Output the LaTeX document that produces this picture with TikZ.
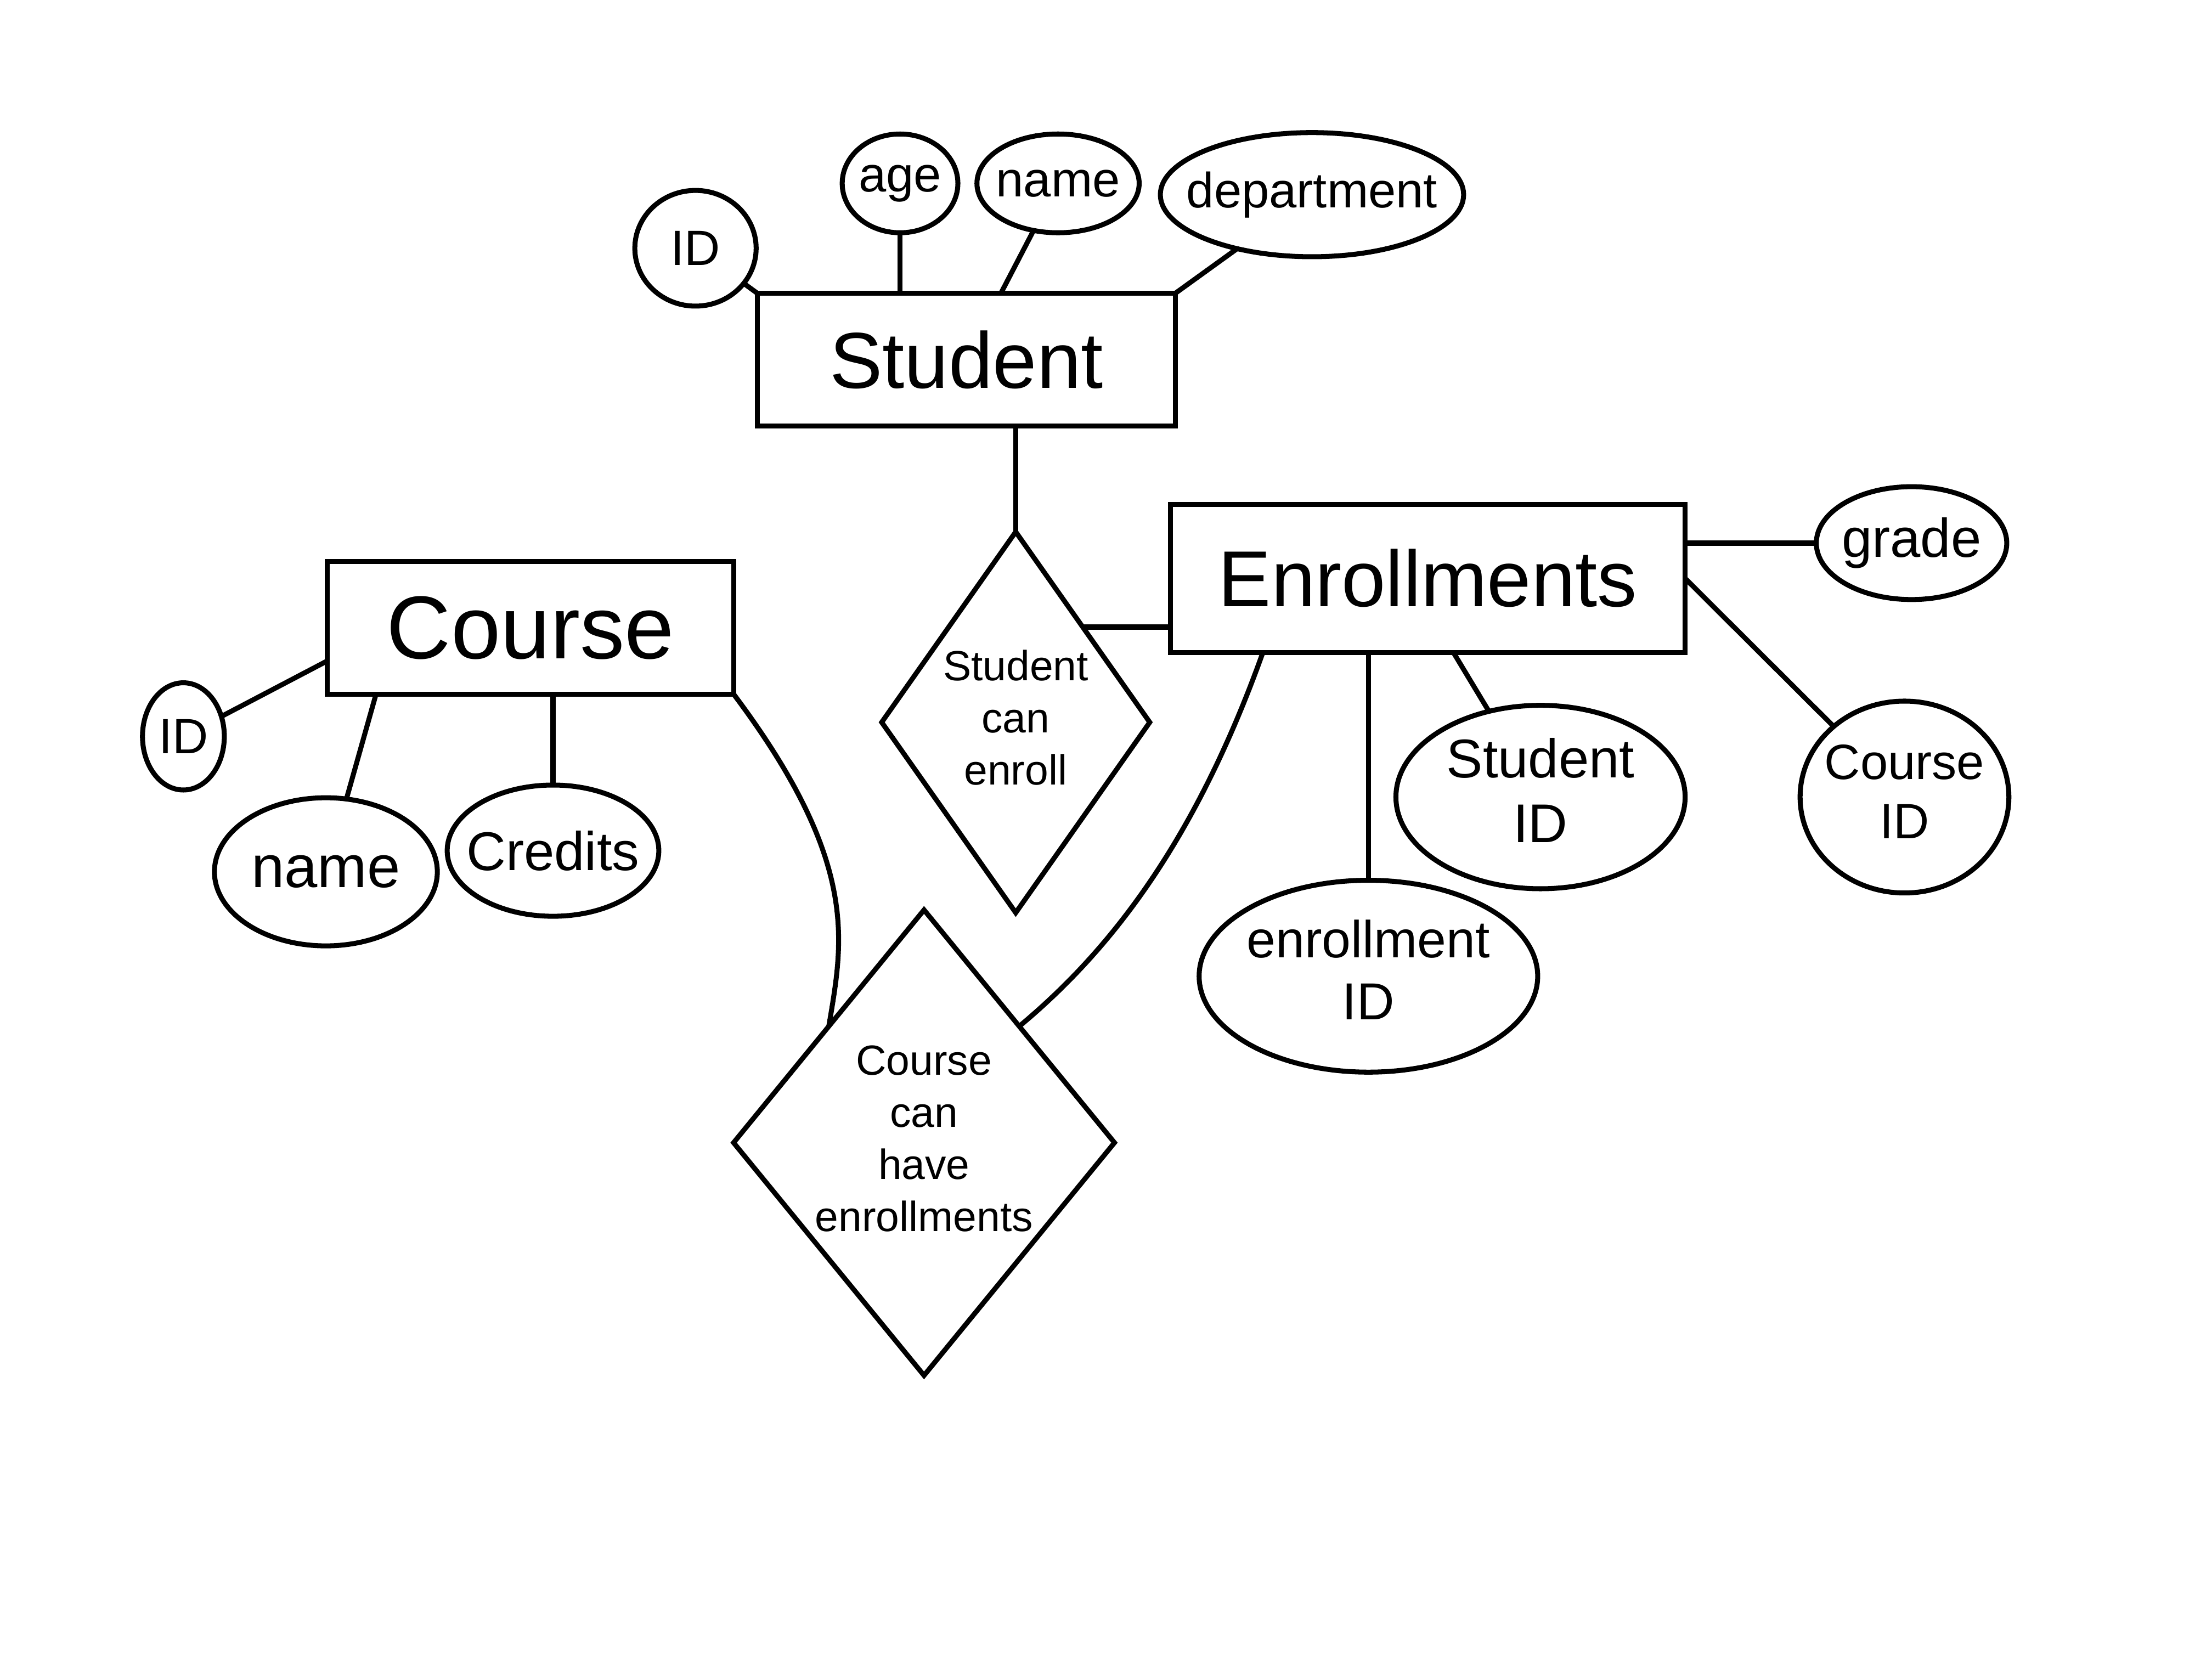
\documentclass[tikz,border=0pt]{standalone}
\usepackage{fontspec}
\setmainfont{Liberation Sans}
\usetikzlibrary{shapes.geometric,calc}
\begin{document}
\begin{tikzpicture}[
  every node/.style={inner sep=0pt, outer sep=0pt},
  entity/.style={draw, line width=1pt, rectangle, font=\fontsize{16}{19}\selectfont},
  attr/.style={draw, line width=1pt, ellipse, font=\fontsize{11}{13}\selectfont},
  rel/.style={draw, line width=1pt, diamond, font=\fontsize{8.5}{10.5}\selectfont},
  conn/.style={line width=1pt},
]
\fill[white] (0,0) rectangle (15.68,-11.76);
\useasboundingbox (0,0) rectangle (15.68,-11.76);

% entities
\node[entity, minimum width=2.96cm, minimum height=0.94cm] (student) at (6.85,-2.55) {Student};
\node[entity, minimum width=3.65cm, minimum height=1.05cm] (enroll) at (10.12,-4.10) {Enrollments};
\node[entity, minimum width=2.88cm, minimum height=0.94cm, font=\fontsize{18}{21}\selectfont] (course) at (3.76,-4.45) {Course};

% student attributes
\node[attr, minimum width=0.86cm, minimum height=0.82cm, font=\fontsize{10}{12}\selectfont] (sid) at (4.93,-1.76) {\makebox[0pt]{ID}};
\node[attr, minimum width=0.82cm, minimum height=0.70cm, font=\fontsize{10}{12}\selectfont] (age) at (6.38,-1.30) {\makebox[0pt]{age}};
\node[attr, minimum width=1.15cm, minimum height=0.70cm, font=\fontsize{10}{12}\selectfont] (sname) at (7.50,-1.30) {\makebox[0pt]{name}};
\node[attr, minimum width=2.15cm, minimum height=0.88cm, font=\fontsize{10}{12}\selectfont] (dept) at (9.30,-1.38) {\makebox[0pt]{department}};

% enrollment attributes
\node[attr, minimum width=1.35cm, minimum height=0.80cm] (grade) at (13.55,-3.85) {\makebox[0pt]{grade}};
\node[attr, minimum width=1.48cm, minimum height=1.36cm, font=\fontsize{10}{12}\selectfont] (ecid) at (13.50,-5.65) {\makebox[0pt]{\begin{tabular}{@{}c@{}}Course\\ID\end{tabular}}};
\node[attr, minimum width=2.05cm, minimum height=1.30cm] (esid) at (10.92,-5.65) {\makebox[0pt]{\begin{tabular}{@{}c@{}}Student\\ID\end{tabular}}};
\node[attr, minimum width=2.40cm, minimum height=1.36cm, font=\fontsize{10.5}{12.5}\selectfont] (eid) at (9.70,-6.92) {\makebox[0pt]{\begin{tabular}{@{}c@{}}enrollment\\ID\end{tabular}}};

% course attributes
\node[attr, minimum width=0.58cm, minimum height=0.76cm, font=\fontsize{10}{12}\selectfont] (cid) at (1.30,-5.22) {\makebox[0pt]{ID}};
\node[attr, minimum width=1.58cm, minimum height=1.05cm, font=\fontsize{12}{14}\selectfont] (cname) at (2.31,-6.18) {\makebox[0pt]{name}};
\node[attr, minimum width=1.50cm, minimum height=0.93cm] (credits) at (3.92,-6.03) {\makebox[0pt]{Credits}};

% relationships
\node[rel, minimum width=1.90cm, minimum height=2.70cm] (rel1) at (7.20,-5.12) {\makebox[0pt]{\begin{tabular}{@{}c@{}}Student\\can\\enroll\end{tabular}}};
\node[rel, minimum width=2.70cm, minimum height=3.30cm] (rel2) at (6.55,-8.10) {\makebox[0pt]{\begin{tabular}{@{}c@{}}Course\\can\\have\\enrollments\end{tabular}}};

% student connectors
\draw[conn] (sid) -- (student.north west);
\draw[conn] (age.south) -- (age.south |- student.north);
\draw[conn] (sname) -- (student);
\draw[conn] (dept) -- (student.north east);
\draw[conn] (rel1.north |- student.south) -- (rel1.north);

% enrollments connectors
\draw[conn] (rel1.north east) -- (rel1.north east -| enroll.west);
\draw[conn] (grade.west -| enroll.east) -- (grade.west);
\draw[conn] (enroll.east) -- (ecid);
\draw[conn] ($(enroll.south west)!0.55!(enroll.south east)$) -- (esid);
\draw[conn] (eid.north |- enroll.south) -- (eid.north);
\draw[conn] ($(enroll.south west)!0.18!(enroll.south east)$) .. controls +(-0.5,-1.4) and +(0.6,0.5) .. (rel2.north east);

% course connectors
\draw[conn] ($(course.west)!0.5!(course.south west)$) -- (cid);
\draw[conn] ($(course.south west)!0.12!(course.south east)$) -- (cname);
\draw[conn] (credits.north |- course.south) -- (credits.north);
\draw[conn] (course.south east) .. controls +(0.9,-1.2) and +(0.1,0.6) .. (rel2.north west);
\end{tikzpicture}
\end{document}
